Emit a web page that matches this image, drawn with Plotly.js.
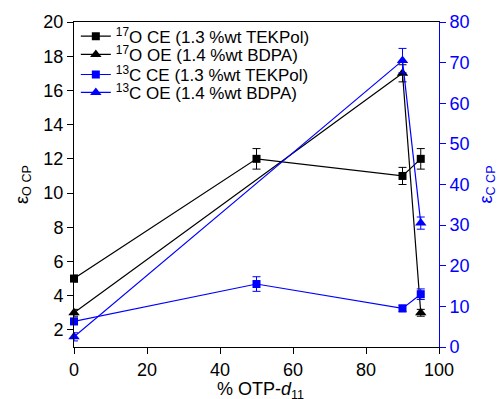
<!DOCTYPE html>
<html>
<head>
<meta charset="utf-8">
<script src="https://cdn.plot.ly/plotly-3.0.1.min.js"></script>
<style>html,body{margin:0;padding:0;background:#fff;}#chart{width:501px;height:399px;}</style>
</head>
<body>
<div id="chart"></div>
<script>
// 17O CE (1.3 %wt TEKPol) - left axis
const oCeX = [0, 50, 90, 95];
const oCeY = [5, 12, 11, 12];
const oCeErr = [0.2, 0.6, 0.5, 0.6];
// 17O OE (1.4 %wt BDPA) - left axis
const oOeX = [0, 90, 95];
const oOeY = [3, 17, 3];
const oOeErr = [0.2, 0.5, 0.2];
// 13C CE (1.3 %wt TEKPol) - right axis
const cCeX = [0, 50, 90, 95];
const cCeY = [6.3, 15.5, 9.5, 13];
const cCeErr = [0.8, 1.8, 0.8, 1.3];
// 13C OE (1.4 %wt BDPA) - right axis
const cOeX = [0, 90, 95];
const cOeY = [2.5, 70.5, 30.5];
const cOeErr = [1, 3, 1.5];

const names = [
  '<sup>17</sup>O CE (1.3 %wt TEKPol)',
  '<sup>17</sup>O OE (1.4 %wt BDPA)',
  '<sup>13</sup>C CE (1.3 %wt TEKPol)',
  '<sup>13</sup>C OE (1.4 %wt BDPA)'
];
const xTitle = '% OTP-<i>d</i><sub>11</sub>';
const xTicks = [0, 20, 40, 60, 80, 100];
const yTicks = [2, 4, 6, 8, 10, 12, 14, 16, 18, 20];
const y2Ticks = [0, 10, 20, 30, 40, 50, 60, 70, 80];

const BLUE = '#0000ff';
const FONT = 'Arial, "Liberation Sans", sans-serif';
const legendIds = ['legend', 'legend2', 'legend3', 'legend4'];
const legendRowY = [0.955, 0.899, 0.837, 0.782];

function tr(x, y, err, name, color, symbol, size, axis, lg) {
  return {
    x: x, y: y, name: name, type: 'scatter', mode: 'lines+markers',
    yaxis: axis, cliponaxis: false, legend: lg,
    line: {color: color, width: 1.2},
    marker: {color: color, symbol: symbol, size: size},
    error_y: {type: 'data', array: err, visible: true, color: color, thickness: 1, width: 4}
  };
}

const data = [
  tr(oCeX, oCeY, oCeErr, names[0], '#000000', 'square', 8, 'y', legendIds[0]),
  tr(oOeX, oOeY, oOeErr, names[1], '#000000', 'triangle-up', 10, 'y', legendIds[1]),
  tr(cCeX, cCeY, cCeErr, names[2], BLUE, 'square', 8, 'y2', legendIds[2]),
  tr(cOeX, cOeY, cOeErr, names[3], BLUE, 'triangle-up', 10, 'y2', legendIds[3])
];

const layout = {
  width: 501, height: 399,
  margin: {l: 74, r: 62, t: 22, b: 52},
  paper_bgcolor: '#fff', plot_bgcolor: '#fff',
  font: {family: FONT, size: 18, color: '#000'},
  showlegend: true,
  xaxis: {
    range: [0, 100], tickvals: xTicks, ticktext: xTicks.map(String),
    showgrid: false, zeroline: false, showline: true, linecolor: '#000', linewidth: 1,
    mirror: true, ticks: 'outside', ticklen: 6, tickcolor: '#000',
    tickfont: {size: 18}
  },
  yaxis: {
    range: [1, 20], tickvals: yTicks, ticktext: yTicks.map(String),
    showgrid: false, zeroline: false, showline: true, linecolor: '#000', linewidth: 1,
    ticks: 'outside', ticklen: 6, tickcolor: '#000',
    tickfont: {size: 18},
    title: {text: 'ε<sub>O CP</sub>', font: {size: 18}, standoff: 10}
  },
  yaxis2: {
    overlaying: 'y', side: 'right',
    range: [0, 80], tickvals: y2Ticks, ticktext: y2Ticks.map(String),
    showgrid: false, zeroline: false, showline: true, linecolor: BLUE, linewidth: 1,
    ticks: 'outside', ticklen: 6, tickcolor: BLUE,
    tickfont: {size: 18, color: BLUE},
    title: {text: 'ε<sub>C CP</sub>', font: {size: 18, color: BLUE}, standoff: 10}
  },
  annotations: [{
    text: xTitle, xref: 'paper', yref: 'paper', x: 0.51, y: -0.135,
    xanchor: 'center', yanchor: 'middle', showarrow: false,
    font: {family: FONT, size: 18, color: '#000'}
  }]
};

legendIds.forEach(function (id, i) {
  layout[id] = {
    x: 0.005, y: legendRowY[i], xanchor: 'left', yanchor: 'middle',
    bgcolor: 'rgba(0,0,0,0)', borderwidth: 0,
    font: {family: FONT, size: 17, color: '#000'}, itemwidth: 30
  };
});

Plotly.newPlot('chart', data, layout, {displayModeBar: false, staticPlot: true});
</script>
</body>
</html>
